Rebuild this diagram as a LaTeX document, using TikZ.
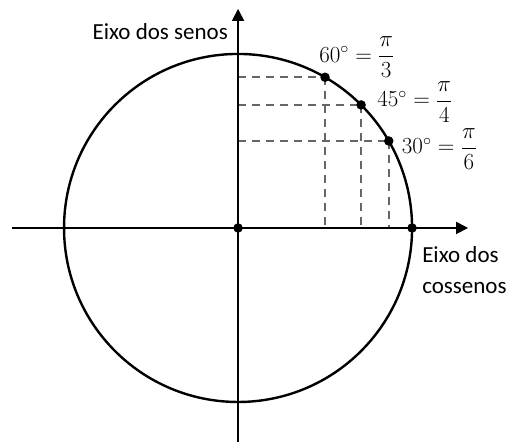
\RequirePackage{fix-cm}
\documentclass[tikz,border=0pt]{standalone}
\usepackage{amsmath}
\usepackage{fontspec}
\setmainfont{Carlito}
\usetikzlibrary{positioning,arrows.meta}

\tikzset{
  eixo/.style={line width=1.8pt, -{Triangle[length=12pt,width=12pt]}},
  guia/.style={black!60, line width=1.6pt, dash pattern=on 8pt off 6pt},
  ponto/.style={circle, fill, inner sep=0pt, minimum size=9.5pt},
  rotulo/.style={inner sep=0pt, font=\fontsize{23}{27}\selectfont},
}

\begin{document}
\begin{tikzpicture}[x=174pt,y=174pt]
  \useasboundingbox (-1.368,-1.230) rectangle (1.557,1.310);

  \coordinate (O) at (0,0);
  \coordinate (xini) at (-1.299,0);
  \coordinate (xfim) at (1.322,0);
  \coordinate (yini) at (0,-1.230);
  \coordinate (yfim) at (0,1.259);
  \coordinate (p0) at (0:1);
  \coordinate (p90) at (90:1);
  \foreach \a in {30,45,60}
    \coordinate (p\a) at (\a:1);

  % linhas de projecao
  \foreach \a in {30,45,60} {
    \draw[guia] (p\a -| O) -- (p\a);
    \draw[guia] (p\a) -- (p\a |- O);
  }

  \draw[line width=2.4pt] (O) circle (1);
  \draw[eixo] (xini) -- (xfim);
  \draw[eixo] (yini) -- (yfim);

  \node[ponto] at (O) {};
  \node[ponto] at (p0) {};
  \foreach \a in {30,45,60}
    \node[ponto] at (p\a) {};

  \node[rotulo, right=-6pt of p60, yshift=20pt] {$60^\circ = \dfrac{\pi}{3}$};
  \node[rotulo, right=16pt of p45, yshift=3pt] {$45^\circ = \dfrac{\pi}{4}$};
  \node[rotulo, right=13pt of p30, yshift=-8pt] {$30^\circ = \dfrac{\pi}{6}$};

  \node[rotulo, above left=14pt and 10pt of p90] {Eixo dos senos};
  \node[rotulo, align=left, below right=18pt and 10pt of p0,
        font=\fontsize{23}{31}\selectfont] {Eixo dos\\cossenos};
\end{tikzpicture}
\end{document}
